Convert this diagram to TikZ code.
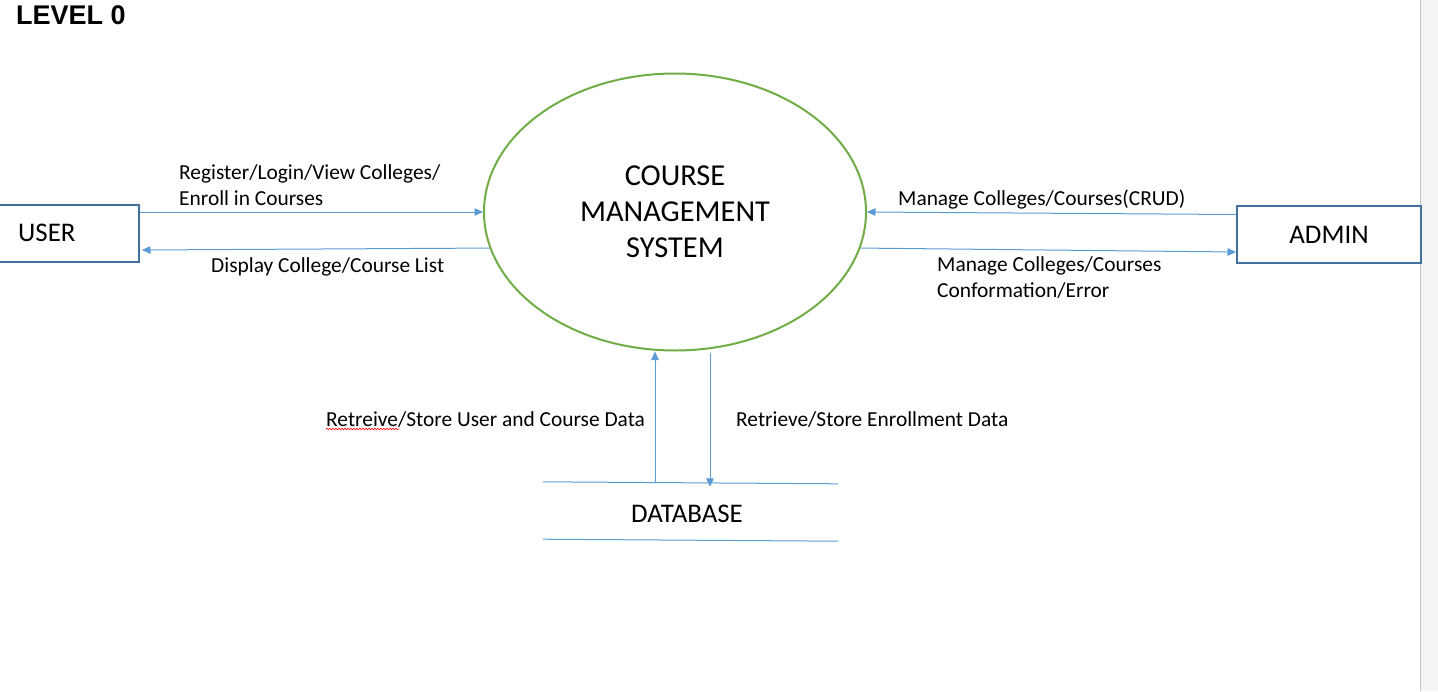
\documentclass[tikz,border=0pt]{standalone}
\usepackage{fontspec}
\setmainfont{Carlito}
\newfontfamily\hdrfont{Liberation Sans}
\usetikzlibrary{arrows.meta,shapes.geometric,decorations.pathmorphing,calc}
\definecolor{flowblue}{HTML}{5B9BD5}
\definecolor{boxblue}{HTML}{41719C}
\definecolor{ellgreen}{HTML}{70AD47}
\definecolor{stripgray}{HTML}{F4F4F4}
\definecolor{edgegray}{HTML}{C4C4C4}
\begin{document}
\begin{tikzpicture}[x=1pt,y=-1pt,
  flow/.style={draw=flowblue, line width=1pt, -{Triangle[length=8.5pt,width=7.5pt]}},
  entity/.style={draw=boxblue, line width=2pt, inner sep=0pt},
  bigtxt/.style={font=\fontsize{26.9}{32}\selectfont, inner sep=0pt},
  lbl/.style={font=\fontsize{21.4}{26}\selectfont, inner sep=0pt, anchor=base west},
  proc/.style={ellipse, draw=ellgreen, line width=2pt, inner sep=0pt,
     minimum width=382pt, minimum height=277pt, align=center,
     font=\fontsize{30.4}{36}\selectfont}
]
\useasboundingbox (0,0) rectangle (1438,691);
% right strip of the page
\fill[stripgray] (1421,0) rectangle (1438,691);
\draw[edgegray, line width=1.5pt] (1420.5,0) -- (1420.5,691);

% title
\node[inner sep=0pt, anchor=base west, font=\hdrfont\bfseries\fontsize{27}{30}\selectfont] (title) at (16,24.5) {LEVEL 0};

% process
\node[proc] (sys) at (675,212) {COURSE\\MANAGEMENT\\SYSTEM};

% entities
\node[entity, minimum width=142pt, minimum height=57pt] (user) at (68,233) {};
\node[bigtxt, anchor=west] (usertxt) at (18,233) {USER};
\node[entity, bigtxt, minimum width=184pt, minimum height=57pt] (admin) at (1329,234.5) {ADMIN};

% data store
\node[minimum width=295pt, minimum height=57pt, inner sep=0pt] (db) at (690.5,510.5) {};
\draw[flowblue, line width=1pt] (db.north west) -- ([yshift=-2pt]db.north east);
\draw[flowblue, line width=1pt] (db.south west) -- ([yshift=-2pt]db.south east);
\node[bigtxt] (dbtxt) at (687,514) {DATABASE};

% flows user
\draw[flow] ([yshift=21pt]user.east) -- (sys.west);
\draw[flow] (sys.191.6) -- ([xshift=2pt,yshift=-17pt]user.east);
% flows admin
\draw[flow] ([yshift=20pt]admin.west) -- (sys.east);
\draw[flow] (sys.-11.6) -- ([yshift=-17.5pt]admin.west);
% flows database
\draw[flow] ([xshift=-35.5pt]db.north) -- ([xshift=-35.5pt]db.north |- sys.south);
\draw[flow] ([xshift=19.5pt,yshift=-1.5pt]db.north |- sys.south) -- ([xshift=19.5pt,yshift=-5pt]db.north);

% labels
\node[lbl] (l1a) at (179,179) {Register/Login/View Colleges/};
\node[lbl] (l1b) at (179,205) {Enroll in Courses};
\node[lbl] (l2) at (211,272) {Display College/Course List};
\node[lbl] (l3) at (898,205) {Manage Colleges/Courses(CRUD)};
\node[lbl] (l4a) at (937,271) {Manage Colleges/Courses};
\node[lbl] (l4b) at (937,297) {Conformation/Error};
\node[lbl] (l5) at (326,426) {Retreive/Store User and Course Data};
\node[lbl] (l6) at (736,426) {Retrieve/Store Enrollment Data};
\draw[red, line width=0.6pt, decorate, decoration={snake, amplitude=0.8pt, segment length=3pt}]
  ([yshift=-3pt]l5.base west) -- ++(73,0);
\end{tikzpicture}
\end{document}
